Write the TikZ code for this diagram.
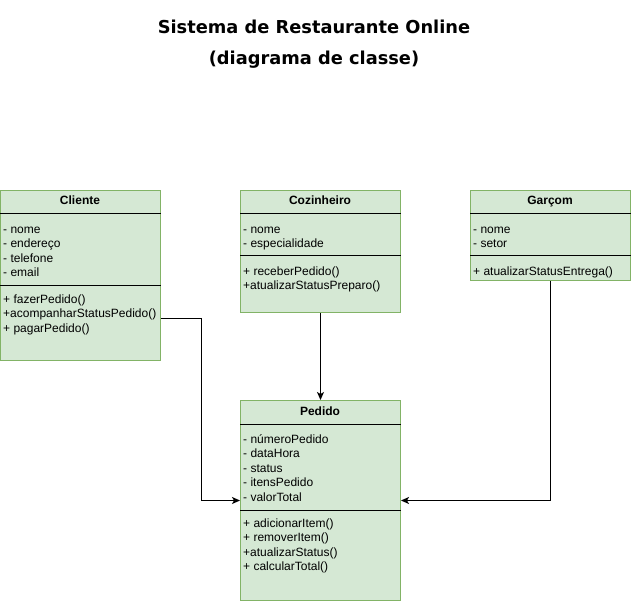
\documentclass[tikz,border=0pt]{standalone}
\usepackage{fontspec}
\setmainfont{Liberation Sans}
\newfontfamily\titlefont{DejaVu Sans}
\usetikzlibrary{arrows.meta}

\definecolor{boxfill}{HTML}{D5E8D4}
\definecolor{boxline}{HTML}{82B366}

\tikzset{
  classbox/.style={draw=boxline, fill=boxfill, line width=1pt, anchor=north west,
    minimum width=160pt, inner sep=0pt},
  classname/.style={font=\fontsize{12}{14.5}\selectfont\bfseries, inner sep=0pt, anchor=base},
  members/.style={font=\fontsize{12}{14.5}\selectfont, align=left, anchor=north west, inner sep=0pt},
  sep/.style={line width=1pt, black},
  conn/.style={line width=1pt, -{Stealth[length=8pt,width=7pt,inset=2pt]}},
}

\begin{document}
\begin{tikzpicture}[x=1pt, y=-1pt]
  \useasboundingbox (0,0) rectangle (631,601);

  % title
  \node[font=\titlefont\fontsize{17.8}{31}\selectfont\bfseries, align=center] (title) at (314,44)
    {Sistema de Restaurante Online\\(diagrama de classe)};

  % Cliente
  \node[classbox, minimum height=170pt] (cliente) at (0,190) {};
  \node[classname] (clientename) at (80,205) {Cliente};
  \draw[sep] ([yshift=-24pt]cliente.north west) -- ([yshift=-24pt]cliente.north east);
  \node[members] (clienteattr) at (3,223)
    {\strut- nome\\- endereço\\- telefone\\- email};
  \draw[sep] ([yshift=-96pt]cliente.north west) -- ([yshift=-96pt]cliente.north east);
  \node[members] (clienteops) at (3,293)
    {\strut+ fazerPedido()\\+acompanharStatusPedido()\\+ pagarPedido()};

  % Cozinheiro
  \node[classbox, minimum height=122pt] (cozinheiro) at (240,190) {};
  \node[classname] (cozinheironame) at (320,205) {Cozinheiro};
  \draw[sep] ([yshift=-24pt]cozinheiro.north west) -- ([yshift=-24pt]cozinheiro.north east);
  \node[members] (cozinheiroattr) at (243,223)
    {\strut- nome\\- especialidade};
  \draw[sep] ([yshift=-66pt]cozinheiro.north west) -- ([yshift=-66pt]cozinheiro.north east);
  \node[members] (cozinheiroops) at (243,265)
    {\strut+ receberPedido()\\+atualizarStatusPreparo()};

  % Garcom
  \node[classbox, minimum height=90pt] (garcom) at (470,190) {};
  \node[classname] (garcomname) at (550,205) {Garçom};
  \draw[sep] ([yshift=-24pt]garcom.north west) -- ([yshift=-24pt]garcom.north east);
  \node[members] (garcomattr) at (473,223)
    {\strut- nome\\- setor};
  \draw[sep] ([yshift=-66pt]garcom.north west) -- ([yshift=-66pt]garcom.north east);
  \node[members] (garcomops) at (473,265)
    {\strut+ atualizarStatusEntrega()};

  % Pedido
  \node[classbox, minimum height=200pt] (pedido) at (240,400) {};
  \node[classname] (pedidoname) at (320,415) {Pedido};
  \draw[sep] ([yshift=-24pt]pedido.north west) -- ([yshift=-24pt]pedido.north east);
  \node[members] (pedidoattr) at (243,433)
    {\strut- númeroPedido\\- dataHora\\- status\\- itensPedido\\- valorTotal};
  \draw[sep] ([yshift=-110pt]pedido.north west) -- ([yshift=-110pt]pedido.north east);
  \node[members] (pedidoops) at (243,517)
    {\strut+ adicionarItem()\\+ removerItem()\\+atualizarStatus()\\+ calcularTotal()};

  % connectors
  \draw[conn] ([yshift=-43pt]cliente.east) -- ++(40pt,0) |- (pedido.west);
  \draw[conn] (cozinheiro.south) -- (pedido.north);
  \draw[conn] (garcom.south) |- (pedido.east);
\end{tikzpicture}
\end{document}
